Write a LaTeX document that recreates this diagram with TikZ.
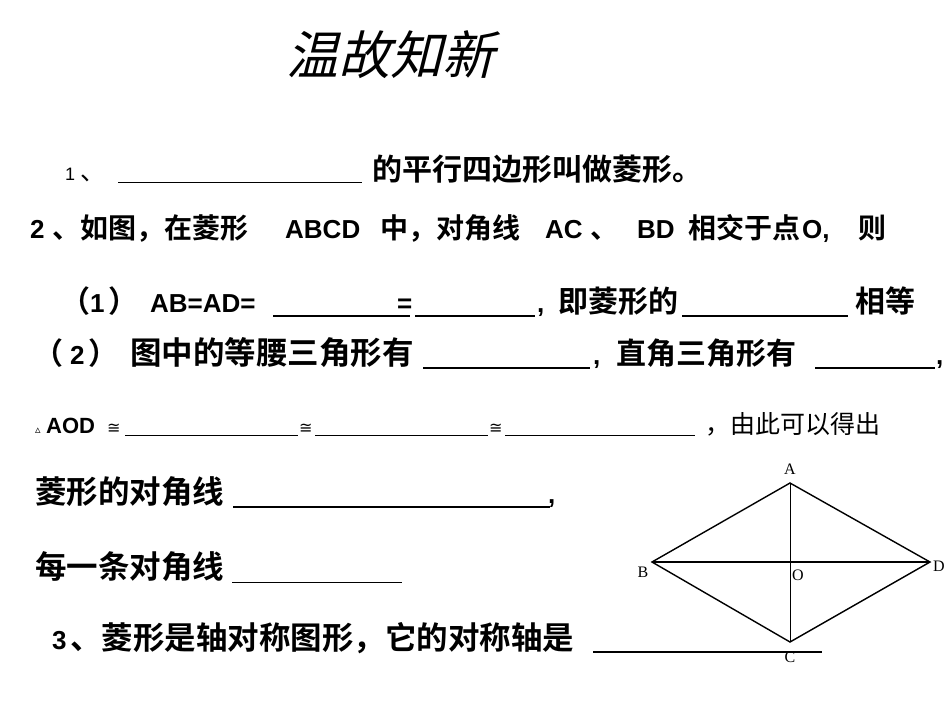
\documentclass[tikz,border=0pt]{standalone}
\usepackage{fontspec}
\setmainfont{Noto Sans CJK SC}[BoldFont={* Bold}]
\newfontfamily\titlefont[FakeSlant=0.25]{Noto Sans CJK SC}
\newfontfamily\lat{Liberation Sans}
\newfontfamily\sym{DejaVu Sans}
\newfontfamily\lbl{Liberation Serif}
\begin{document}
\begin{tikzpicture}[x=1pt,y=-1pt,
  t/.style={anchor=base west,inner sep=0pt,font=\fontsize{30}{32}\selectfont\bfseries},
  tb/.style={anchor=base west,inner sep=0pt,font=\fontsize{31.5}{33}\selectfont\bfseries},
  t2/.style={anchor=base west,inner sep=0pt,font=\fontsize{28}{30}\selectfont\bfseries},
  tl/.style={anchor=base west,inner sep=0pt,font=\lat\fontsize{26}{30}\selectfont\bfseries},
  s/.style={anchor=base west,inner sep=0pt,font=\fontsize{25}{27}\selectfont},
  ul/.style={line width=1.8pt},
  ut/.style={line width=0.8pt},
  edge/.style={line width=1.4pt},
  pl/.style={inner sep=1pt,font=\lbl\fontsize{16}{17}\selectfont}]
\useasboundingbox (0,0) rectangle (950,713);
\node[anchor=base west,inner sep=0pt,font=\titlefont\fontsize{52}{56}\selectfont] (title) at (286,74) {温故知新};
% line 1
\node[s,font=\lat\fontsize{18}{20}\selectfont] (l1a) at (65,180) {1};
\node[s] (l1x) at (80,180) {、};
\draw[ut] (118,182) -- (362,182);
\node[t] (l1b) at (372,180) {的平行四边形叫做菱形。};
% line 2
\node[tl] (l2a) at (30,238) {2};
\node[t2] (l2b) at (52,238) {、如图，在菱形};
\node[tl] (l2c) at (285,238) {ABCD};
\node[t2] (l2d) at (380,238) {中，对角线};
\node[tl] (l2e) at (545,238) {AC};
\node[t2] (l2f) at (590,238) {、};
\node[tl] (l2g) at (637,238) {BD};
\node[t2] (l2h) at (688,238) {相交于点};
\node[tl] (l2i) at (802,238) {O,};
\node[t2] (l2j) at (858,238) {则};
% line 3
\node[t] (l3a) at (60,312) {（};
\node[tl] (l3a2) at (90,312) {1};
\node[t] (l3a3) at (108,312) {）};
\node[tl] (l3b) at (150,312) {AB=AD=};
\draw[ul] (273,316) -- (410,316);
\node[tl] (l3c) at (397,312) {=};
\draw[ul] (415,316) -- (535,316);
\node[tl] (l3d) at (537,312) {,};
\node[t] (l3e) at (558,312) {即菱形的};
\draw[ul] (682,316) -- (848,316);
\node[t] (l3f) at (855,312) {相等};
% line 4
\node[t] (l4a) at (33,364) {（};
\node[tl] (l4a2) at (70,364) {2};
\node[t] (l4a3) at (88,364) {）};
\node[tb] (l4a4) at (130,364) {图中的等腰三角形有};
\draw[ul] (423,368) -- (590,368);
\node[tl] (l4b) at (593,364) {,};
\node[t] (l4c) at (616,364) {直角三角形有};
\draw[ul] (815,368) -- (935,368);
\node[tl] (l4d) at (936,364) {,};
% line 5
\node[s,font=\sym\fontsize{11}{12}\selectfont] (l5a) at (35,433) {▵};
\node[s,font=\lat\fontsize{22}{24}\selectfont\bfseries] (l5b) at (46,433) {AOD};
\node[s,font=\sym\fontsize{16}{18}\selectfont] (l5b2) at (107,433) {≅};
\draw[ut] (125,435) -- (298,435);
\node[s,font=\sym\fontsize{16}{18}\selectfont] (l5c) at (299,433) {≅};
\draw[ut] (315,435) -- (488,435);
\node[s,font=\sym\fontsize{16}{18}\selectfont] (l5d) at (489,433) {≅};
\draw[ut] (505,435) -- (695,435);
\node[s] (l5e) at (705,433) {，由此可以得出};
% line 6
\node[tb] (l6) at (35,503) {菱形的对角线};
\draw[ul] (233,507) -- (550,507);
\node[tl] (l6b) at (548,503) {,};
% line 7
\node[tb] (l7) at (35,578) {每一条对角线};
\draw[ut] (232,582) -- (402,582);
% line 8
\node[tl] (l8a) at (52,649) {3};
\node[tb] (l8) at (70,649) {、菱形是轴对称图形，它的对称轴是};
\draw[ul] (593,652) -- (822,652);
% rhombus
\coordinate (A) at (790,483);
\coordinate (B) at (652,562);
\coordinate (C) at (790,642);
\coordinate (D) at (930,562);
\draw[edge] (A) -- (B) -- (C) -- (D) -- cycle;
\draw[line width=1pt] (A) -- (C);
\draw[edge] (B) -- (D);
\node[pl] (la) at (790,469) {A};
\node[pl] (lb) at (643,572) {B};
\node[pl] (ld) at (939,566) {D};
\node[pl] (lo) at (798,575) {O};
\node[pl] (lc) at (790,657) {C};
\end{tikzpicture}
\end{document}
